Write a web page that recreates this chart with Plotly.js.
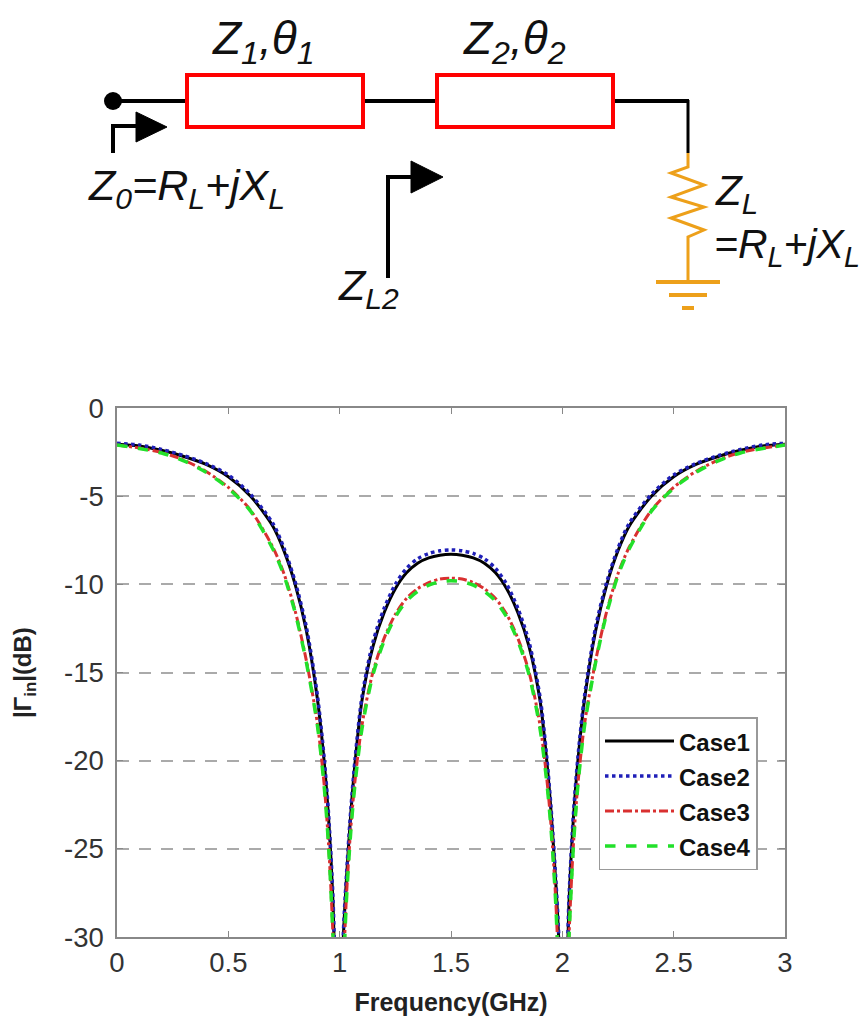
<!DOCTYPE html>
<html>
<head>
<meta charset="utf-8">
<script src="https://cdn.plot.ly/plotly-3.0.1.min.js"></script>
<style>html,body{margin:0;padding:0;background:#fff}#chart{width:864px;height:1020px}</style>
</head>
<body>
<div id="chart"></div>
<script>
const frequency = [0,0.1,0.2,0.3,0.4,0.5,0.6,0.7,0.75,0.8,0.85,0.9,0.93,0.95,0.97,0.985,1,1.015,1.03,1.05,1.07,1.1,1.15,1.2,1.25,1.3,1.35,1.4,1.45,1.5,1.55,1.6,1.65,1.7,1.75,1.8,1.85,1.9,1.93,1.95,1.97,1.985,2,2.015,2.03,2.05,2.07,2.1,2.15,2.2,2.25,2.3,2.4,2.5,2.6,2.7,2.8,2.9,3];
const case1 = [-2.05,-2.15,-2.4,-2.75,-3.2,-3.9,-5.0,-6.7,-8.1,-10,-12.6,-16.5,-20,-23.2,-28,-35,-42,-30.5,-26.8,-23,-20,-16.6,-13.5,-11.6,-10.25,-9.35,-8.8,-8.5,-8.35,-8.3,-8.35,-8.5,-8.8,-9.35,-10.25,-11.6,-13.5,-16.6,-20,-23,-26.8,-30.5,-42,-35,-28,-23.2,-20,-16.5,-12.6,-10,-8.1,-6.7,-5.0,-3.9,-3.2,-2.75,-2.4,-2.15,-2.05];
const case2 = [-2.0,-2.1,-2.35,-2.7,-3.15,-3.8,-4.9,-6.55,-7.95,-9.85,-12.4,-16.3,-19.8,-23,-27.8,-35,-42,-30.3,-26.6,-22.8,-19.8,-16.4,-13.25,-11.35,-10,-9.1,-8.55,-8.25,-8.1,-8.05,-8.1,-8.25,-8.55,-9.1,-10,-11.35,-13.25,-16.4,-19.8,-22.8,-26.6,-30.3,-42,-35,-27.8,-23,-19.8,-16.3,-12.4,-9.85,-7.95,-6.55,-4.9,-3.8,-3.15,-2.7,-2.35,-2.1,-2.0];
const case3 = [-2.1,-2.27,-2.52,-2.95,-3.6,-4.5,-5.8,-7.9,-9.4,-11.5,-14.3,-17.9,-21.3,-24.7,-29.9,-36,-42,-32.8,-27.8,-23.8,-21,-18,-14.95,-13.05,-11.7,-10.8,-10.25,-9.9,-9.7,-9.65,-9.7,-9.9,-10.25,-10.8,-11.7,-13.05,-14.95,-18,-21,-23.8,-27.8,-32.8,-42,-36,-29.9,-24.7,-21.3,-17.9,-14.3,-11.5,-9.4,-7.9,-5.8,-4.5,-3.6,-2.95,-2.52,-2.27,-2.1];
const case4 = [-2.1,-2.3,-2.55,-3.0,-3.65,-4.55,-5.85,-8.0,-9.5,-11.6,-14.4,-18,-21.4,-24.8,-30,-36,-42,-33,-28,-24,-21.2,-18.2,-15.1,-13.2,-11.85,-10.95,-10.4,-10.05,-9.85,-9.8,-9.85,-10.05,-10.4,-10.95,-11.85,-13.2,-15.1,-18.2,-21.2,-24,-28,-33,-42,-36,-30,-24.8,-21.4,-18,-14.4,-11.6,-9.5,-8.0,-5.85,-4.55,-3.65,-3.0,-2.55,-2.3,-2.1];
const xTicks = [0,0.5,1,1.5,2,2.5,3];
const xTickLabels = ['0','0.5','1','1.5','2','2.5','3'];
const yTicks = [0,-5,-10,-15,-20,-25,-30];
const yTickLabels = ['0','-5','-10','-15','-20','-25','-30'];

const W = 864, H = 1020;
const px = v => v / W, py = v => 1 - v / H;
const FONT = 'Liberation Sans, Arial, sans-serif';
const BLACK = '#000000', RED = '#ff0000', ORANGE = '#eda01a';

function entry(name, y, color, dash, width) {
  return {
    x: frequency, y: y, name: '<span style="font-size:24px"><b>' + name + '</b></span>',
    type: 'scatter', mode: 'lines',
    line: {color: color, dash: dash, width: width, shape: 'spline', smoothing: 0.8}
  };
}
const traces = [
  entry('Case1', case1, '#000000', 'solid', 3),
  entry('Case2', case2, '#1f1fb8', 'dot', 3.5),
  entry('Case3', case3, '#d93030', 'dashdot', 3),
  entry('Case4', case4, '#22e02a', 'dash', 3.5)
];

function seg(x0, y0, x1, y1, color, w) {
  return {type: 'line', xref: 'paper', yref: 'paper', x0: px(x0), y0: py(y0), x1: px(x1), y1: py(y1), line: {color: color, width: w}};
}
function rect(x0, y0, x1, y1) {
  return {type: 'rect', xref: 'paper', yref: 'paper', x0: px(x0), y0: py(y0), x1: px(x1), y1: py(y1), line: {color: RED, width: 4}, fillcolor: 'rgba(0,0,0,0)'};
}
function poly(pts, color, w, fill) {
  const d = pts.map((p, i) => (i ? 'L' : 'M') + px(p[0]) + ',' + py(p[1])).join(' ') + (fill ? ' Z' : '');
  return {type: 'path', xref: 'paper', yref: 'paper', path: d, line: {color: color, width: w}, fillcolor: fill ? color : 'rgba(0,0,0,0)'};
}
const shapes = [
  {type: 'circle', xref: 'paper', yref: 'paper', x0: px(104), y0: py(92), x1: px(122), y1: py(110), line: {color: BLACK, width: 0}, fillcolor: BLACK},
  seg(113, 101, 187, 101, BLACK, 4),
  seg(363, 101, 437, 101, BLACK, 4),
  seg(613, 101, 689, 101, BLACK, 4),
  seg(688, 100, 688, 153, BLACK, 3),
  rect(187, 75, 363, 127),
  rect(437, 75, 613, 127),
  poly([[113, 153], [113, 126], [137, 126]], BLACK, 4),
  poly([[136, 112], [167, 127], [136, 142]], BLACK, 1, true),
  poly([[388, 278], [388, 177], [412, 177]], BLACK, 4),
  poly([[411, 161], [443, 177], [411, 193]], BLACK, 1, true),
  poly([[688, 153], [688, 167], [671, 173], [704, 185], [671, 197], [704, 207], [671, 218], [704, 230], [688, 237], [688, 280]], ORANGE, 3),
  seg(656, 282, 720, 282, ORANGE, 4),
  seg(669, 295, 707, 295, ORANGE, 4),
  seg(682, 308, 694, 308, ORANGE, 4)
];
function label(text, x, y, size, italic) {
  return {
    text: text, xref: 'paper', yref: 'paper', x: px(x), y: py(y), xanchor: 'left', yanchor: 'middle',
    showarrow: false, font: {family: FONT, size: size, color: '#111', style: italic ? 'italic' : 'normal'}
  };
}
const annotations = [
  label('Z<sub>1</sub>,θ<sub>1</sub>', 210, 42, 46, true),
  label('Z<sub>2</sub>,θ<sub>2</sub>', 461, 42, 46, true),
  label('Z<sub>0</sub>=R<sub>L</sub>+jX<sub>L</sub>', 86, 188, 43, true),
  label('Z<sub>L</sub>', 713, 193, 42, true),
  label('=R<sub>L</sub>+jX<sub>L</sub>', 712, 247, 41, true),
  label('Z<sub>L2</sub>', 336, 288, 43, true)
];

const layout = {
  width: W, height: H,
  margin: {l: 0, r: 0, t: 0, b: 0},
  paper_bgcolor: '#fff', plot_bgcolor: '#fff',
  font: {family: FONT, color: '#333'},
  showlegend: true,
  legend: {
    x: px(598.5), y: py(717), xanchor: 'left', yanchor: 'top',
    bgcolor: '#fff', bordercolor: '#999', borderwidth: 1.5,
    font: {family: FONT, size: 24.6, color: '#111'},
    itemwidth: 69, entrywidth: 86, entrywidthmode: 'pixels', itemclick: false
  },
  xaxis: {
    domain: [px(117), px(785)], range: [0, 3], tickmode: 'array', tickvals: xTicks, ticktext: xTickLabels,
    ticks: 'inside', ticklen: 6, tickcolor: '#888', showline: true, linecolor: '#888', linewidth: 1.5, mirror: 'ticks',
    showgrid: false, zeroline: false, tickfont: {family: FONT, size: 27.5, color: '#333'},
    title: {text: '<b>Frequency(GHz)</b>', font: {family: FONT, size: 25, color: '#222'}, standoff: 17}
  },
  yaxis: {
    domain: [py(937), py(408)], range: [-30, 0], tickmode: 'array', tickvals: yTicks, ticktext: yTickLabels,
    ticks: 'inside', ticklen: 6, tickcolor: '#888', showline: true, linecolor: '#888', linewidth: 1.5, mirror: 'ticks',
    showgrid: true, gridcolor: '#aaaaaa', griddash: '12px,10px', gridwidth: 1.5, zeroline: false,
    tickfont: {family: FONT, size: 27.5, color: '#333'}, ticklabelstandoff: 6,
    title: {text: '<b>|Γ<sub>in</sub>|(dB)</b>', font: {family: FONT, size: 24, color: '#222'}, standoff: 26}
  },
  shapes: shapes,
  annotations: annotations
};
Plotly.newPlot('chart', traces, layout, {displayModeBar: false, responsive: false});
</script>
</body>
</html>
